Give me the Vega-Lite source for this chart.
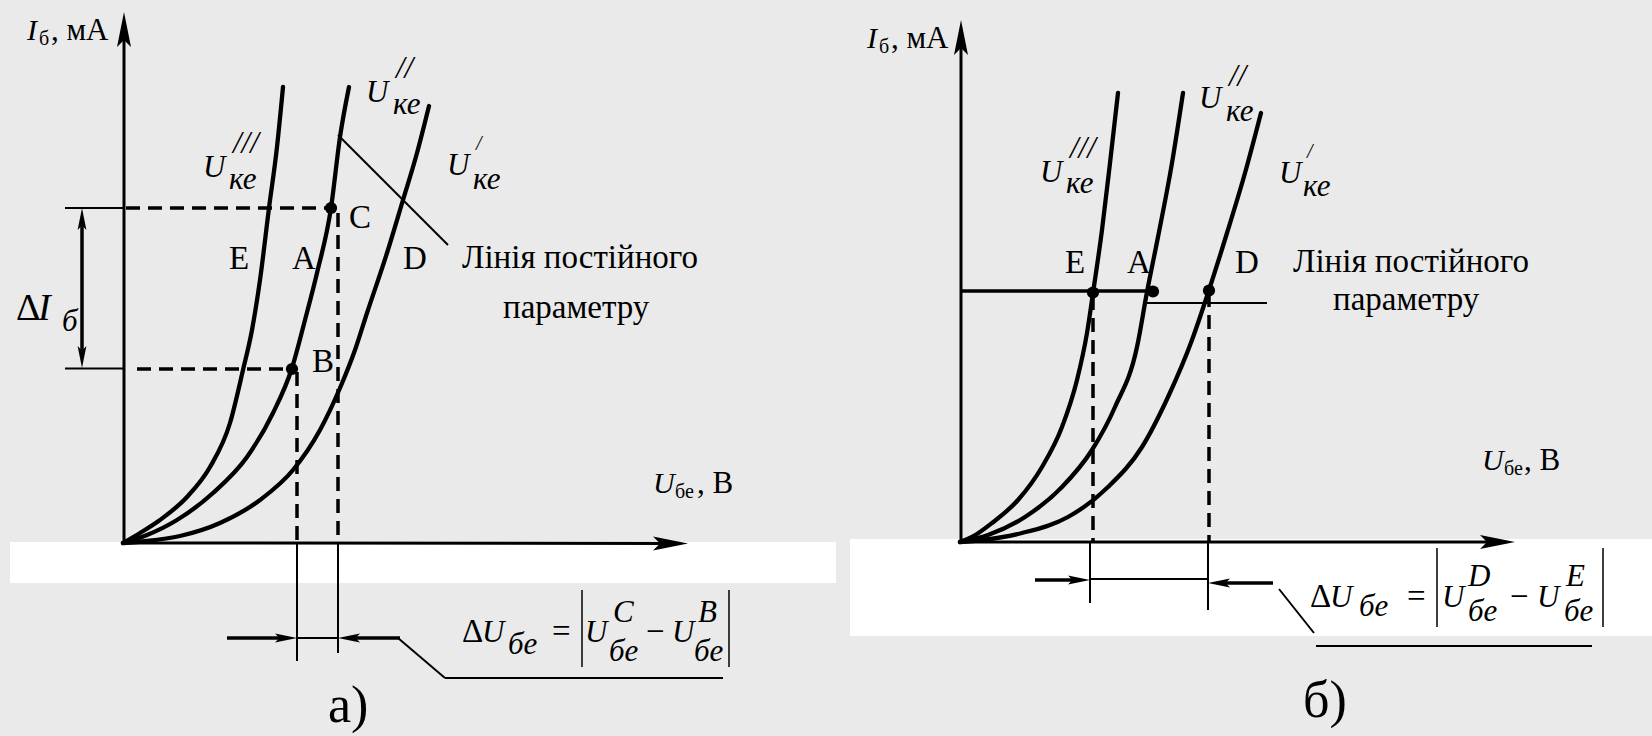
{
  "$schema": "https://vega.github.io/schema/vega-lite/v6.json",
  "width": 1652,
  "height": 736,
  "autosize": {"type": "fit", "contains": "padding"},
  "padding": 0,
  "background": "#eaeaea",
  "config": {"view": {"stroke": null}},
  "datasets": {
    "bands": [
      {"x": 10, "x2": 836, "y": 542, "y2": 583},
      {"x": 850, "x2": 1652, "y": 539, "y2": 636}
    ],
    "segs": [
      {"kind": "axis", "x": 124, "y": 543, "x2": 124, "y2": 32},
      {"kind": "axis", "x": 124, "y": 543, "x2": 672, "y2": 543.5},
      {"kind": "axis", "x": 961, "y": 542, "x2": 961, "y2": 40},
      {"kind": "axis", "x": 961, "y": 542, "x2": 1499, "y2": 542},
      {"kind": "thin", "x": 65, "y": 208, "x2": 124, "y2": 208},
      {"kind": "thin", "x": 65, "y": 368.5, "x2": 124, "y2": 368.5},
      {"kind": "thin", "x": 338, "y": 135, "x2": 448, "y2": 245},
      {"kind": "thin", "x": 297, "y": 543, "x2": 297, "y2": 661},
      {"kind": "thin", "x": 338, "y": 543, "x2": 338, "y2": 653},
      {"kind": "thin", "x": 297, "y": 638, "x2": 338, "y2": 638},
      {"kind": "thin", "x": 398, "y": 638, "x2": 445, "y2": 678},
      {"kind": "thin", "x": 445, "y": 678, "x2": 723, "y2": 678},
      {"kind": "thin", "x": 1090, "y": 542, "x2": 1090, "y2": 603},
      {"kind": "thin", "x": 1208, "y": 542, "x2": 1208, "y2": 610},
      {"kind": "thin", "x": 1090, "y": 579, "x2": 1208, "y2": 579},
      {"kind": "thin", "x": 1279, "y": 589, "x2": 1314, "y2": 633},
      {"kind": "thin", "x": 1316, "y": 646, "x2": 1592, "y2": 646},
      {"kind": "thin", "x": 1145, "y": 303, "x2": 1267, "y2": 303},
      {"kind": "bar", "x": 582, "y": 590, "x2": 582, "y2": 667},
      {"kind": "bar", "x": 729, "y": 590, "x2": 729, "y2": 667},
      {"kind": "bar", "x": 1437, "y": 548, "x2": 1437, "y2": 627},
      {"kind": "bar", "x": 1603, "y": 548, "x2": 1603, "y2": 627},
      {"kind": "heavy", "x": 82, "y": 222, "x2": 82, "y2": 354},
      {"kind": "heavy", "x": 227, "y": 638, "x2": 284, "y2": 638},
      {"kind": "heavy", "x": 351, "y": 638, "x2": 400, "y2": 638},
      {"kind": "heavy", "x": 1035, "y": 580, "x2": 1077, "y2": 580},
      {"kind": "heavy", "x": 1221, "y": 583, "x2": 1273, "y2": 583},
      {"kind": "heavy", "x": 961, "y": 291, "x2": 1153, "y2": 291},
      {"kind": "dash", "x": 126, "y": 208, "x2": 331, "y2": 208},
      {"kind": "dash", "x": 137, "y": 369, "x2": 292, "y2": 369},
      {"kind": "dash", "x": 338, "y": 213, "x2": 338, "y2": 540},
      {"kind": "dash", "x": 297, "y": 372, "x2": 297, "y2": 543},
      {"kind": "dash", "x": 1093, "y": 296, "x2": 1093, "y2": 542},
      {"kind": "dash", "x": 1209, "y": 293, "x2": 1209, "y2": 542}
    ],
    "curves": [
      {"curve": "a3", "i": 0, "x": 123, "y": 543},
      {"curve": "a3", "i": 1, "x": 140, "y": 533},
      {"curve": "a3", "i": 2, "x": 160, "y": 520},
      {"curve": "a3", "i": 3, "x": 187, "y": 497},
      {"curve": "a3", "i": 4, "x": 210, "y": 467},
      {"curve": "a3", "i": 5, "x": 230, "y": 423},
      {"curve": "a3", "i": 6, "x": 243, "y": 370},
      {"curve": "a3", "i": 7, "x": 252, "y": 330},
      {"curve": "a3", "i": 8, "x": 260, "y": 280},
      {"curve": "a3", "i": 9, "x": 269, "y": 208},
      {"curve": "a3", "i": 10, "x": 277, "y": 147},
      {"curve": "a3", "i": 11, "x": 283, "y": 87},
      {"curve": "a2", "i": 0, "x": 123, "y": 543},
      {"curve": "a2", "i": 1, "x": 147, "y": 535},
      {"curve": "a2", "i": 2, "x": 177, "y": 520},
      {"curve": "a2", "i": 3, "x": 213, "y": 493},
      {"curve": "a2", "i": 4, "x": 247, "y": 457},
      {"curve": "a2", "i": 5, "x": 273, "y": 413},
      {"curve": "a2", "i": 6, "x": 292, "y": 368},
      {"curve": "a2", "i": 7, "x": 305, "y": 320},
      {"curve": "a2", "i": 8, "x": 317, "y": 273},
      {"curve": "a2", "i": 9, "x": 331, "y": 208},
      {"curve": "a2", "i": 10, "x": 340, "y": 137},
      {"curve": "a2", "i": 11, "x": 349, "y": 87},
      {"curve": "a1", "i": 0, "x": 123, "y": 543},
      {"curve": "a1", "i": 1, "x": 147, "y": 541},
      {"curve": "a1", "i": 2, "x": 180, "y": 536},
      {"curve": "a1", "i": 3, "x": 220, "y": 523},
      {"curve": "a1", "i": 4, "x": 260, "y": 500},
      {"curve": "a1", "i": 5, "x": 293, "y": 470},
      {"curve": "a1", "i": 6, "x": 320, "y": 430},
      {"curve": "a1", "i": 7, "x": 340, "y": 388},
      {"curve": "a1", "i": 8, "x": 355, "y": 350},
      {"curve": "a1", "i": 9, "x": 367, "y": 313},
      {"curve": "a1", "i": 10, "x": 387, "y": 253},
      {"curve": "a1", "i": 11, "x": 403, "y": 200},
      {"curve": "a1", "i": 12, "x": 417, "y": 153},
      {"curve": "a1", "i": 13, "x": 429, "y": 106},
      {"curve": "b3", "i": 0, "x": 960, "y": 542},
      {"curve": "b3", "i": 1, "x": 972, "y": 537},
      {"curve": "b3", "i": 2, "x": 992, "y": 523},
      {"curve": "b3", "i": 3, "x": 1018, "y": 500},
      {"curve": "b3", "i": 4, "x": 1042, "y": 467},
      {"curve": "b3", "i": 5, "x": 1062, "y": 427},
      {"curve": "b3", "i": 6, "x": 1077, "y": 380},
      {"curve": "b3", "i": 7, "x": 1087, "y": 333},
      {"curve": "b3", "i": 8, "x": 1093, "y": 293},
      {"curve": "b3", "i": 9, "x": 1102, "y": 230},
      {"curve": "b3", "i": 10, "x": 1110, "y": 163},
      {"curve": "b3", "i": 11, "x": 1118, "y": 93},
      {"curve": "b2", "i": 0, "x": 960, "y": 542},
      {"curve": "b2", "i": 1, "x": 988, "y": 535},
      {"curve": "b2", "i": 2, "x": 1025, "y": 517},
      {"curve": "b2", "i": 3, "x": 1062, "y": 487},
      {"curve": "b2", "i": 4, "x": 1092, "y": 450},
      {"curve": "b2", "i": 5, "x": 1115, "y": 407},
      {"curve": "b2", "i": 6, "x": 1137, "y": 347},
      {"curve": "b2", "i": 7, "x": 1147, "y": 292},
      {"curve": "b2", "i": 8, "x": 1158, "y": 237},
      {"curve": "b2", "i": 9, "x": 1172, "y": 163},
      {"curve": "b2", "i": 10, "x": 1183, "y": 93},
      {"curve": "b1", "i": 0, "x": 960, "y": 542},
      {"curve": "b1", "i": 1, "x": 982, "y": 540},
      {"curve": "b1", "i": 2, "x": 1022, "y": 533},
      {"curve": "b1", "i": 3, "x": 1068, "y": 517},
      {"curve": "b1", "i": 4, "x": 1108, "y": 487},
      {"curve": "b1", "i": 5, "x": 1142, "y": 447},
      {"curve": "b1", "i": 6, "x": 1168, "y": 397},
      {"curve": "b1", "i": 7, "x": 1192, "y": 340},
      {"curve": "b1", "i": 8, "x": 1209, "y": 290},
      {"curve": "b1", "i": 9, "x": 1227, "y": 233},
      {"curve": "b1", "i": 10, "x": 1245, "y": 173},
      {"curve": "b1", "i": 11, "x": 1261, "y": 113}
    ],
    "heads": [
      {"kind": "axis", "dir": "up", "x": 124, "y": 29.5},
      {"kind": "axis", "dir": "up", "x": 961, "y": 37.5},
      {"kind": "axis", "dir": "right", "x": 670.5, "y": 543.5},
      {"kind": "axis", "dir": "right", "x": 1497.5, "y": 542},
      {"kind": "dim", "dir": "up", "x": 82, "y": 219},
      {"kind": "dim", "dir": "down", "x": 82, "y": 357},
      {"kind": "dim", "dir": "right", "x": 286, "y": 638},
      {"kind": "dim", "dir": "left", "x": 349, "y": 638},
      {"kind": "dim", "dir": "right", "x": 1079, "y": 580},
      {"kind": "dim", "dir": "left", "x": 1219, "y": 583}
    ],
    "dots": [
      {"name": "C", "x": 331, "y": 208},
      {"name": "B", "x": 292, "y": 369},
      {"name": "E", "x": 1093, "y": 292.5},
      {"name": "A", "x": 1153, "y": 291.5},
      {"name": "D", "x": 1209, "y": 290.5}
    ],
    "texts": [
      {"s": "axit", "t": "I", "x": 27, "y": 40},
      {"s": "axsub", "t": "б", "x": 39, "y": 45},
      {"s": "ax", "t": ", мА", "x": 51, "y": 40},
      {"s": "axit", "t": "I", "x": 867, "y": 48},
      {"s": "axsub", "t": "б", "x": 879, "y": 53},
      {"s": "ax", "t": ", мА", "x": 891, "y": 48},
      {"s": "axit", "t": "U", "x": 653, "y": 493},
      {"s": "axsub", "t": "бе", "x": 675, "y": 498},
      {"s": "ax", "t": ", В", "x": 697, "y": 493},
      {"s": "axit", "t": "U", "x": 1482, "y": 470},
      {"s": "axsub", "t": "бе", "x": 1504, "y": 475},
      {"s": "ax", "t": ", В", "x": 1524, "y": 470},
      {"s": "it", "t": "U", "x": 203, "y": 177},
      {"s": "it", "t": "///", "x": 233, "y": 153},
      {"s": "it", "t": "ке", "x": 229, "y": 189},
      {"s": "it", "t": "U", "x": 366, "y": 102},
      {"s": "it", "t": "//", "x": 396, "y": 78},
      {"s": "it", "t": "ке", "x": 393, "y": 114},
      {"s": "it", "t": "U", "x": 447, "y": 175},
      {"s": "itsm", "t": "/", "x": 476, "y": 150},
      {"s": "it", "t": "ке", "x": 473, "y": 189},
      {"s": "it", "t": "U", "x": 1040, "y": 182},
      {"s": "it", "t": "///", "x": 1070, "y": 158},
      {"s": "it", "t": "ке", "x": 1066, "y": 193},
      {"s": "it", "t": "U", "x": 1199, "y": 108},
      {"s": "it", "t": "//", "x": 1229, "y": 86},
      {"s": "it", "t": "ке", "x": 1226, "y": 121},
      {"s": "it", "t": "U", "x": 1279, "y": 183},
      {"s": "itsm", "t": "/", "x": 1307, "y": 158},
      {"s": "it", "t": "ке", "x": 1303, "y": 196},
      {"s": "up", "t": "C", "x": 349, "y": 228},
      {"s": "up", "t": "E", "x": 229, "y": 269},
      {"s": "up", "t": "A", "x": 292, "y": 269},
      {"s": "up", "t": "D", "x": 403, "y": 269},
      {"s": "up", "t": "B", "x": 312, "y": 372},
      {"s": "up", "t": "E", "x": 1065, "y": 273},
      {"s": "up", "t": "A", "x": 1127, "y": 273},
      {"s": "up", "t": "D", "x": 1235, "y": 273},
      {"s": "up", "t": "Лінія постійного", "x": 462, "y": 268},
      {"s": "up", "t": "параметру", "x": 503, "y": 318},
      {"s": "up", "t": "Лінія постійного", "x": 1293, "y": 272},
      {"s": "up", "t": "параметру", "x": 1333, "y": 310},
      {"s": "dI", "t": "Δ", "x": 16, "y": 320},
      {"s": "dIit", "t": "I", "x": 38, "y": 320},
      {"s": "it", "t": "б", "x": 62, "y": 331},
      {"s": "up", "t": "Δ", "x": 462, "y": 642},
      {"s": "it", "t": "U", "x": 482, "y": 642},
      {"s": "it", "t": "бе", "x": 508, "y": 654},
      {"s": "up", "t": "=", "x": 552, "y": 642},
      {"s": "it", "t": "U", "x": 585, "y": 642},
      {"s": "it", "t": "C", "x": 613, "y": 622},
      {"s": "it", "t": "бе", "x": 609, "y": 661},
      {"s": "up", "t": "−", "x": 646, "y": 642},
      {"s": "it", "t": "U", "x": 672, "y": 642},
      {"s": "it", "t": "B", "x": 698, "y": 622},
      {"s": "it", "t": "бе", "x": 694, "y": 661},
      {"s": "up", "t": "Δ", "x": 1310, "y": 607},
      {"s": "it", "t": "U", "x": 1330, "y": 607},
      {"s": "it", "t": "бе", "x": 1359, "y": 616},
      {"s": "up", "t": "=", "x": 1407, "y": 607},
      {"s": "it", "t": "U", "x": 1442, "y": 607},
      {"s": "it", "t": "D", "x": 1468, "y": 586},
      {"s": "it", "t": "бе", "x": 1468, "y": 621},
      {"s": "up", "t": "−", "x": 1510, "y": 607},
      {"s": "it", "t": "U", "x": 1537, "y": 607},
      {"s": "it", "t": "E", "x": 1566, "y": 586},
      {"s": "it", "t": "бе", "x": 1564, "y": 621},
      {"s": "big", "t": "а)", "x": 328, "y": 722},
      {"s": "big", "t": "б)", "x": 1303, "y": 717}
    ]
  },
  "encoding": {
    "x": {"field": "x", "type": "quantitative", "axis": null,
          "scale": {"domain": [0, 1652], "nice": false, "zero": false}},
    "y": {"field": "y", "type": "quantitative", "axis": null,
          "scale": {"domain": [0, 736], "reverse": true, "nice": false, "zero": false}}
  },
  "layer": [
    {
      "data": {"name": "bands"},
      "mark": {"type": "rect", "color": "white"},
      "encoding": {"x2": {"field": "x2"}, "y2": {"field": "y2"}}
    },
    {
      "data": {"name": "segs"},
      "transform": [{"filter": "datum.kind === 'axis'"}],
      "mark": {"type": "rule", "color": "black", "strokeWidth": 3},
      "encoding": {"x2": {"field": "x2"}, "y2": {"field": "y2"}}
    },
    {
      "data": {"name": "segs"},
      "transform": [{"filter": "datum.kind === 'thin'"}],
      "mark": {"type": "rule", "color": "black", "strokeWidth": 2},
      "encoding": {"x2": {"field": "x2"}, "y2": {"field": "y2"}}
    },
    {
      "data": {"name": "segs"},
      "transform": [{"filter": "datum.kind === 'bar'"}],
      "mark": {"type": "rule", "color": "black", "strokeWidth": 1.5},
      "encoding": {"x2": {"field": "x2"}, "y2": {"field": "y2"}}
    },
    {
      "data": {"name": "segs"},
      "transform": [{"filter": "datum.kind === 'heavy'"}],
      "mark": {"type": "rule", "color": "black", "strokeWidth": 3.5},
      "encoding": {"x2": {"field": "x2"}, "y2": {"field": "y2"}}
    },
    {
      "data": {"name": "segs"},
      "transform": [{"filter": "datum.kind === 'dash'"}],
      "mark": {"type": "rule", "color": "black", "strokeWidth": 3.5, "strokeDash": [14, 8]},
      "encoding": {"x2": {"field": "x2"}, "y2": {"field": "y2"}}
    },
    {
      "data": {"name": "curves"},
      "mark": {"type": "line", "color": "black", "strokeWidth": 4.3, "interpolate": "monotone", "strokeCap": "round"},
      "encoding": {
        "detail": {"field": "curve", "type": "nominal"},
        "order": {"field": "i", "type": "quantitative"}
      }
    },
    {
      "data": {"name": "heads"},
      "transform": [{"filter": "datum.kind === 'axis'"}],
      "mark": {"type": "point", "filled": true, "color": "black", "opacity": 1, "size": 1225, "strokeWidth": 0},
      "encoding": {
        "shape": {"field": "dir", "type": "nominal", "legend": null,
          "scale": {"domain": ["up", "down", "left", "right"],
                    "range": ["M0,-1L0.4,1L0,0.6L-0.4,1Z", "M0,1L0.4,-1L0,-0.6L-0.4,-1Z",
                              "M-1,0L1,0.4L0.6,0L1,-0.4Z", "M1,0L-1,0.4L-0.6,0L-1,-0.4Z"]}}
      }
    },
    {
      "data": {"name": "heads"},
      "transform": [{"filter": "datum.kind === 'dim'"}],
      "mark": {"type": "point", "filled": true, "color": "black", "opacity": 1, "size": 484, "strokeWidth": 0},
      "encoding": {
        "shape": {"field": "dir", "type": "nominal", "legend": null,
          "scale": {"domain": ["up", "down", "left", "right"],
                    "range": ["M0,-1L0.64,1L0,0.6L-0.64,1Z", "M0,1L0.64,-1L0,-0.6L-0.64,-1Z",
                              "M-1,0L1,0.64L0.6,0L1,-0.64Z", "M1,0L-1,0.64L-0.6,0L-1,-0.64Z"]}}
      }
    },
    {
      "data": {"name": "dots"},
      "mark": {"type": "circle", "color": "black", "opacity": 1, "size": 150}
    },
    {
      "data": {"name": "texts"},
      "transform": [{"filter": "datum.s === 'up'"}],
      "mark": {"type": "text", "align": "left", "baseline": "alphabetic", "font": "Liberation Serif, serif", "fontSize": 33, "color": "black"},
      "encoding": {"text": {"field": "t"}}
    },
    {
      "data": {"name": "texts"},
      "transform": [{"filter": "datum.s === 'it'"}],
      "mark": {"type": "text", "align": "left", "baseline": "alphabetic", "font": "Liberation Serif, serif", "fontStyle": "italic", "fontSize": 31, "color": "black"},
      "encoding": {"text": {"field": "t"}}
    },
    {
      "data": {"name": "texts"},
      "transform": [{"filter": "datum.s === 'itsm'"}],
      "mark": {"type": "text", "align": "left", "baseline": "alphabetic", "font": "Liberation Serif, serif", "fontStyle": "italic", "fontSize": 20, "color": "black"},
      "encoding": {"text": {"field": "t"}}
    },
    {
      "data": {"name": "texts"},
      "transform": [{"filter": "datum.s === 'ax'"}],
      "mark": {"type": "text", "align": "left", "baseline": "alphabetic", "font": "Liberation Serif, serif", "fontSize": 31, "color": "black"},
      "encoding": {"text": {"field": "t"}}
    },
    {
      "data": {"name": "texts"},
      "transform": [{"filter": "datum.s === 'axit'"}],
      "mark": {"type": "text", "align": "left", "baseline": "alphabetic", "font": "Liberation Serif, serif", "fontStyle": "italic", "fontSize": 30, "color": "black"},
      "encoding": {"text": {"field": "t"}}
    },
    {
      "data": {"name": "texts"},
      "transform": [{"filter": "datum.s === 'axsub'"}],
      "mark": {"type": "text", "align": "left", "baseline": "alphabetic", "font": "Liberation Serif, serif", "fontSize": 20, "color": "black"},
      "encoding": {"text": {"field": "t"}}
    },
    {
      "data": {"name": "texts"},
      "transform": [{"filter": "datum.s === 'dI'"}],
      "mark": {"type": "text", "align": "left", "baseline": "alphabetic", "font": "Liberation Serif, serif", "fontSize": 38, "color": "black"},
      "encoding": {"text": {"field": "t"}}
    },
    {
      "data": {"name": "texts"},
      "transform": [{"filter": "datum.s === 'dIit'"}],
      "mark": {"type": "text", "align": "left", "baseline": "alphabetic", "font": "Liberation Serif, serif", "fontStyle": "italic", "fontSize": 38, "color": "black"},
      "encoding": {"text": {"field": "t"}}
    },
    {
      "data": {"name": "texts"},
      "transform": [{"filter": "datum.s === 'big'"}],
      "mark": {"type": "text", "align": "left", "baseline": "alphabetic", "font": "Liberation Serif, serif", "fontSize": 52, "color": "black"},
      "encoding": {"text": {"field": "t"}}
    }
  ]
}
